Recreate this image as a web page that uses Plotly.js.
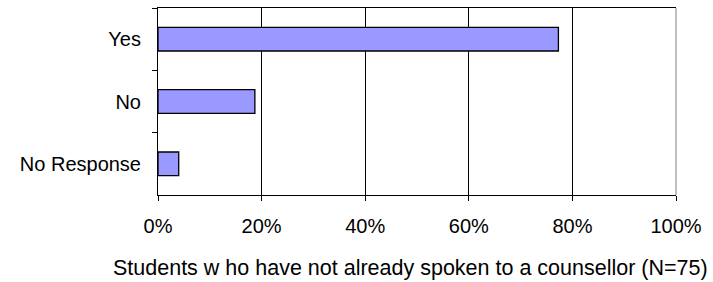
<!DOCTYPE html>
<html>
<head>
<meta charset="utf-8">
<script src="https://cdn.plot.ly/plotly-3.0.1.min.js"></script>
<style>html,body{margin:0;padding:0;background:#fff;}#chart{width:713px;height:282px;}</style>
</head>
<body>
<div id="chart"></div>
<script>
const categories = ["Yes", "No", "No Response"];
const percentages = [0.773, 0.187, 0.04];
const xTickValues = [0, 0.2, 0.4, 0.6, 0.8, 1.0];
const xTitle = "Students w ho have not already spoken to a counsellor (N=75)";

const fontFamily = "Liberation Sans, Arial, sans-serif";

const trace = {
  type: "bar",
  orientation: "h",
  y: categories,
  x: percentages,
  width: 0.38,
  marker: {color: "#9999FF", line: {color: "#000000", width: 1.3}},
  hoverinfo: "none"
};

const layout = {
  width: 713,
  height: 282,
  margin: {l: 158, r: 37, t: 8, b: 87, pad: 0},
  paper_bgcolor: "#ffffff",
  plot_bgcolor: "#ffffff",
  showlegend: false,
  font: {family: fontFamily, size: 20, color: "#000000"},
  xaxis: {
    range: [0, 1],
    tickvals: xTickValues,
    tickformat: ".0%",
    showgrid: true,
    gridcolor: "#000000",
    gridwidth: 1,
    showline: true,
    linecolor: "#000000",
    linewidth: 1,
    mirror: true,
    ticks: "outside",
    ticklen: 5,
    tickcolor: "#000000",
    ticklabelstandoff: 8,
    zeroline: false,
    tickfont: {family: fontFamily, size: 20, color: "#000000"}
  },
  yaxis: {
    type: "category",
    categoryorder: "array",
    categoryarray: categories,
    autorange: "reversed",
    showgrid: false,
    showline: true,
    linecolor: "#000000",
    linewidth: 1,
    ticks: "outside",
    tickson: "boundaries",
    ticklen: 5,
    tickcolor: "#000000",
    ticklabelstandoff: 12,
    zeroline: false,
    tickfont: {family: fontFamily, size: 20, color: "#000000"}
  },
  annotations: [
    {text: xTitle, xref: "paper", yref: "paper", x: 0.5, y: 0, xanchor: "center", yanchor: "middle",
     xshift: -7, yshift: -73, showarrow: false, font: {family: fontFamily, size: 21.5, color: "#000000"}}
  ],
  shapes: [
    {type: "line", xref: "paper", yref: "paper", x0: 1, x1: 1, y0: 0, y1: 1, line: {color: "#808080", width: 1}}
  ]
};

Plotly.newPlot("chart", [trace], layout, {displayModeBar: false, staticPlot: true});
</script>
</body>
</html>
